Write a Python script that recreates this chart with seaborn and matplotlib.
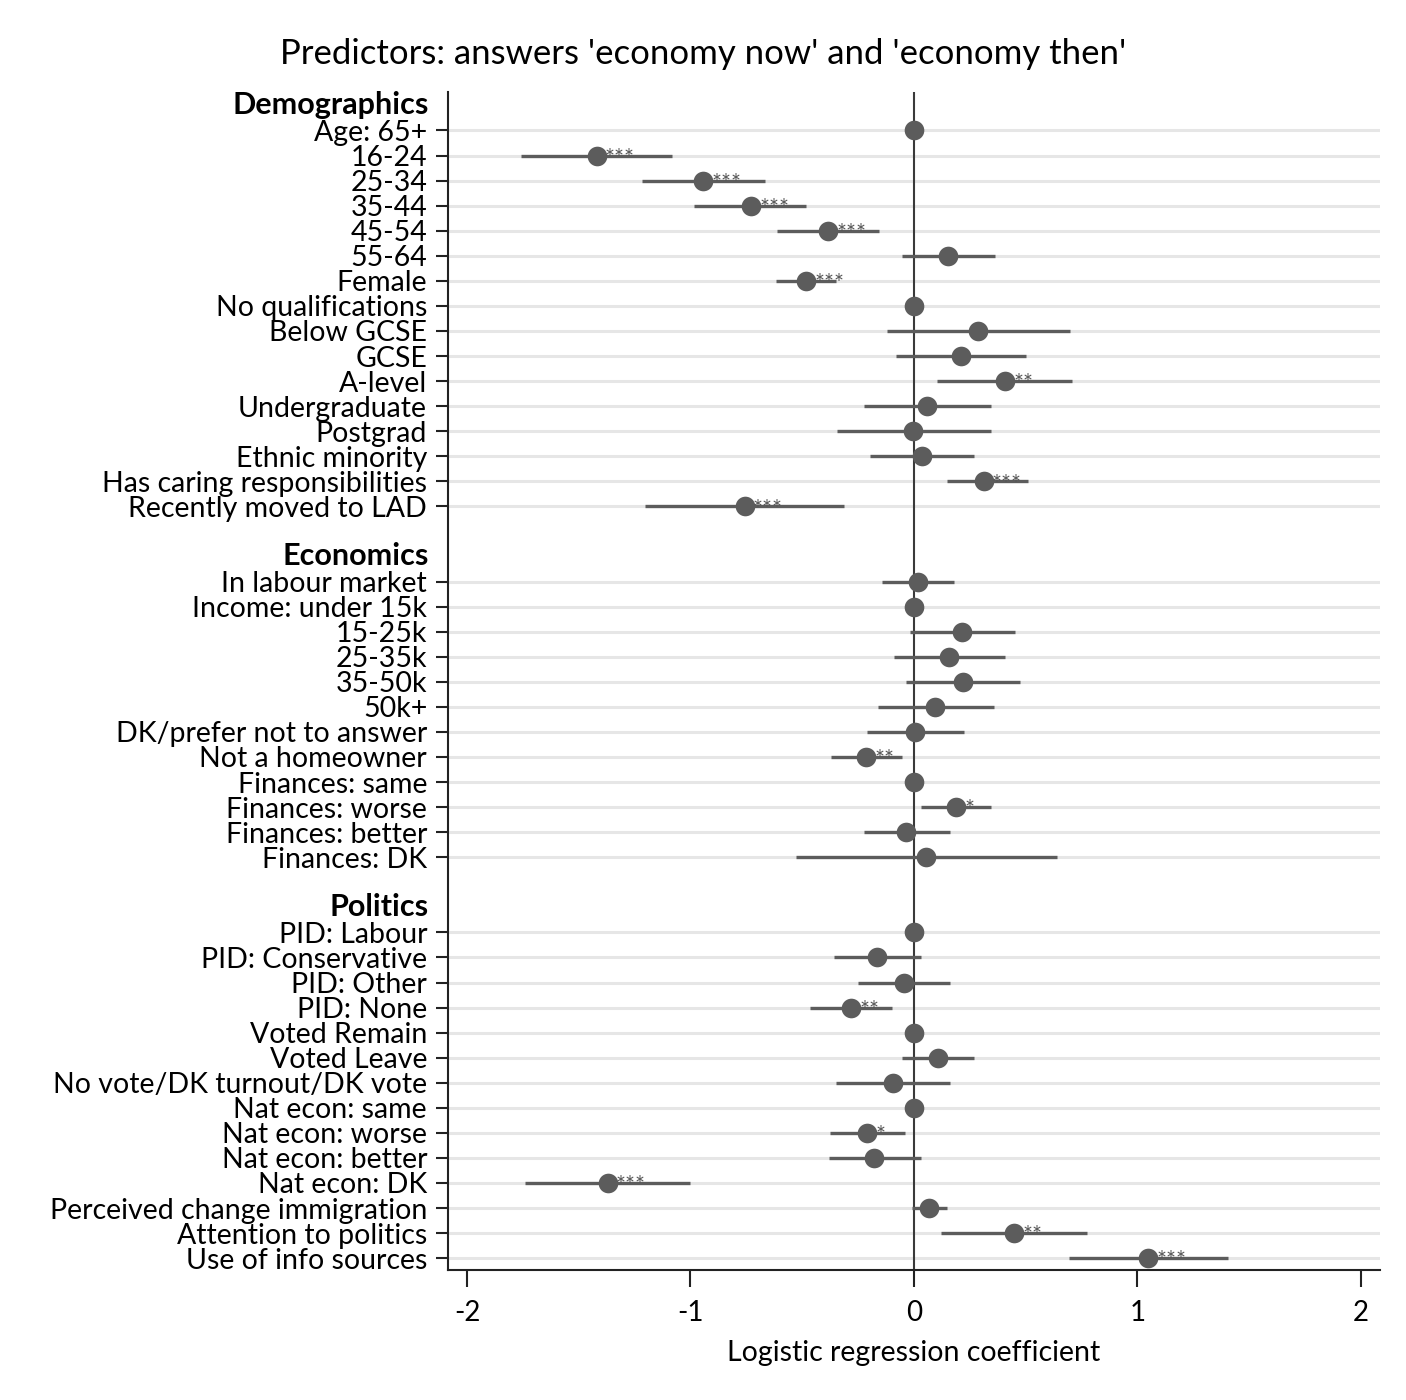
import matplotlib
matplotlib.use("Agg")
import matplotlib.pyplot as plt
import seaborn as sns
import pandas as pd
import numpy as np

# groups and their rows
groups = ["Demographics", "Economics", "Politics"]

demo_labels = ["Age: 65+", "16-24", "25-34", "35-44", "45-54", "55-64", "Female",
               "No qualifications", "Below GCSE", "GCSE", "A-level", "Undergraduate",
               "Postgrad", "Ethnic minority", "Has caring responsibilities",
               "Recently moved to LAD"]
demo_coef = [0, -1.42, -0.945, -0.73, -0.385, 0.152, -0.483, 0, 0.288, 0.21, 0.406,
             0.058, -0.005, 0.034, 0.312, -0.758]
demo_lo = [0, -1.76, -1.218, -0.982, -0.613, -0.054, -0.619, 0, -0.12, -0.08, 0.102,
           -0.224, -0.345, -0.197, 0.15, -1.204]
demo_hi = [0, -1.082, -0.667, -0.481, -0.155, 0.362, -0.347, 0, 0.696, 0.502, 0.707,
           0.344, 0.344, 0.268, 0.508, -0.313]
demo_stars = ["", "***", "***", "***", "***", "", "***", "", "", "", "**", "", "", "",
              "***", "***"]

econ_labels = ["In labour market", "Income: under 15k", "15-25k", "25-35k", "35-50k",
               "50k+", "DK/prefer not to answer", "Not a homeowner", "Finances: same",
               "Finances: worse", "Finances: better", "Finances: DK"]
econ_coef = [0.017, 0, 0.214, 0.156, 0.22, 0.094, 0.006, -0.215, 0, 0.188, -0.034, 0.055]
econ_lo = [-0.143, 0, -0.016, -0.09, -0.034, -0.161, -0.211, -0.373, 0, 0.032, -0.224, -0.527]
econ_hi = [0.18, 0, 0.45, 0.407, 0.476, 0.358, 0.226, -0.054, 0, 0.346, 0.16, 0.638]
econ_stars = ["", "", "", "", "", "", "", "**", "", "*", "", ""]

pol_labels = ["PID: Labour", "PID: Conservative", "PID: Other", "PID: None",
              "Voted Remain", "Voted Leave", "No vote/DK turnout/DK vote",
              "Nat econ: same", "Nat econ: worse", "Nat econ: better", "Nat econ: DK",
              "Perceived change immigration", "Attention to politics",
              "Use of info sources"]
pol_coef = [0, -0.164, -0.044, -0.282, 0, 0.109, -0.096, 0, -0.211, -0.178, -1.371,
            0.068, 0.449, 1.048]
pol_lo = [0, -0.356, -0.252, -0.465, 0, -0.052, -0.348, 0, -0.375, -0.38, -1.741,
          -0.011, 0.123, 0.692]
pol_hi = [0, 0.03, 0.161, -0.099, 0, 0.268, 0.161, 0, -0.041, 0.03, -1.002,
          0.148, 0.774, 1.407]
pol_stars = ["", "", "", "**", "", "", "", "", "*", "", "***", "", "**", "***"]

xticks = [-2, -1, 0, 1, 2]

# build table with row slots (header row, items, blank row between groups)
rows = []
headers = []
slot = 0
for g, labs, c, lo, hi, st in zip(
        groups,
        [demo_labels, econ_labels, pol_labels],
        [demo_coef, econ_coef, pol_coef],
        [demo_lo, econ_lo, pol_lo],
        [demo_hi, econ_hi, pol_hi],
        [demo_stars, econ_stars, pol_stars]):
    headers.append((g, slot))
    slot += 1
    for i in range(len(labs)):
        rows.append(dict(label=labs[i], coef=c[i], lo=lo[i], hi=hi[i],
                         stars=st[i], pos=slot, group=g))
        slot += 1
    slot += 1
df = pd.DataFrame(rows)

sns.set_theme(style="white")
plt.rcParams["font.family"] = ["Lato", "DejaVu Sans"]
plt.rcParams["text.color"] = "black"
plt.rcParams["xtick.color"] = "black"
plt.rcParams["ytick.color"] = "black"
plt.rcParams["axes.labelcolor"] = "black"

fig = plt.figure(figsize=(14.06, 14.0), dpi=100)
ax = fig.add_axes([0.3186, 0.0929, 0.6629, 0.8411])

dark = "#5c5c5c"

# grid lines at item rows
for p in df["pos"]:
    ax.axhline(p, color="#e6e6e6", lw=2.2, zorder=0)

ax.axvline(0, color="#3a3a3a", lw=1.5, zorder=1)

ax.hlines(df["pos"], df["lo"], df["hi"], color=dark, lw=2.4, zorder=2)
sns.scatterplot(data=df, x="coef", y="pos", ax=ax, color=dark, s=200,
                edgecolor=dark, linewidth=0, zorder=3, legend=False)

for _, r in df.iterrows():
    if r["stars"]:
        ax.annotate(r["stars"], (r["coef"], r["pos"]), xytext=(6, -2),
                    textcoords="offset points", fontsize=17, color="#555555",
                    va="center", ha="left", zorder=4)

ax.set_xlim(-2.085, 2.085)
ax.set_ylim(46.47, -0.52)
ax.set_xticks(xticks)
ax.set_xticklabels([str(t) for t in xticks], fontsize=20)
ax.set_yticks(df["pos"])
ax.set_yticklabels(df["label"], fontsize=20.5)
for h, p in headers:
    ax.text(-0.021, p, h, transform=ax.get_yaxis_transform(), ha="right",
            va="center", fontsize=22, fontweight="bold")

ax.tick_params(axis="y", length=9, width=1.5, color="#222222", pad=6, direction="out", left=True)
ax.tick_params(axis="x", length=12, width=1.5, color="#222222", pad=10, direction="out", bottom=True)
for s in ["top", "right"]:
    ax.spines[s].set_visible(False)
for s in ["left", "bottom"]:
    ax.spines[s].set_color("#222222")
    ax.spines[s].set_linewidth(1.5)

ax.set_xlabel("Logistic regression coefficient", fontsize=20.5, labelpad=10)
ax.set_ylabel("")
fig.suptitle("Predictors: answers 'economy now' and 'economy then'", x=0.5, y=0.973,
             fontsize=25)

fig.savefig("out.png", dpi=100)
